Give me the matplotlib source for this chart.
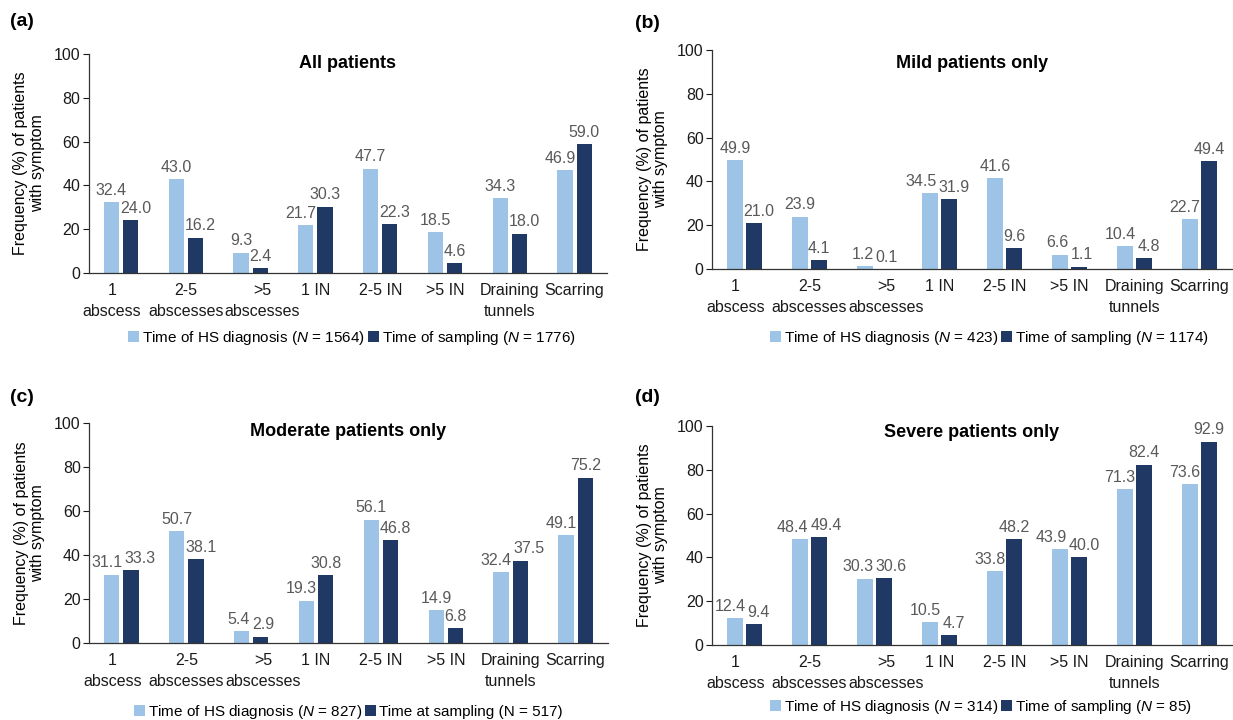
import matplotlib
matplotlib.use("Agg")
import matplotlib.pyplot as plt
import matplotlib.transforms as mtransforms
import numpy as np

plt.rcParams['font.family'] = ['Liberation Sans', 'DejaVu Sans']
plt.rcParams['mathtext.fontset'] = 'custom'
plt.rcParams['mathtext.it'] = 'Liberation Sans:italic'
plt.rcParams['mathtext.rm'] = 'Liberation Sans'

categories = ['1\nabscess', '2-5\nabscesses', '>5\nabscesses', '1 IN', '2-5 IN',
              '>5 IN', 'Draining\ntunnels', 'Scarring']

a_diagnosis = [32.4, 43.0, 9.3, 21.7, 47.7, 18.5, 34.3, 46.9]
a_sampling = [24.0, 16.2, 2.4, 30.3, 22.3, 4.6, 18.0, 59.0]
b_diagnosis = [49.9, 23.9, 1.2, 34.5, 41.6, 6.6, 10.4, 22.7]
b_sampling = [21.0, 4.1, 0.1, 31.9, 9.6, 1.1, 4.8, 49.4]
c_diagnosis = [31.1, 50.7, 5.4, 19.3, 56.1, 14.9, 32.4, 49.1]
c_sampling = [33.3, 38.1, 2.9, 30.8, 46.8, 6.8, 37.5, 75.2]
d_diagnosis = [12.4, 48.4, 30.3, 10.5, 33.8, 43.9, 71.3, 73.6]
d_sampling = [9.4, 49.4, 30.6, 4.7, 48.2, 40.0, 82.4, 92.9]

titles = ['All patients', 'Mild patients only', 'Moderate patients only', 'Severe patients only']
letters = ['(a)', '(b)', '(c)', '(d)']
diag_labels = ['Time of HS diagnosis ($N$ = 1564)', 'Time of HS diagnosis ($N$ = 423)',
               'Time of HS diagnosis ($N$ = 827)', 'Time of HS diagnosis ($N$ = 314)']
samp_labels = ['Time of sampling ($N$ = 1776)', 'Time of sampling ($N$ = 1174)',
               'Time at sampling (N = 517)', 'Time of sampling ($N$ = 85)']

LIGHT = '#9DC3E6'
DARK = '#1F3864'
LABEL_GREY = '#595959'

W, H = 1233, 720
fig = plt.figure(figsize=(W / 100, H / 100), dpi=100)

# axes boxes in pixels: left, top, right, bottom
boxes = [(88.6, 54, 607, 273), (712, 50, 1232, 269),
         (89, 423, 608, 643), (712, 426, 1232, 645)]
legend_pos = [(0.508, -0.297), (0.533, -0.315), (0.5, -0.312), (0.517, -0.282)]
title_drop = [3, 7, 3, 0]   # px below axes top
letter_pos = [(22, 22), (647, 23), (22, 397), (647, 397)]

panels = [(a_diagnosis, a_sampling), (b_diagnosis, b_sampling),
          (c_diagnosis, c_sampling), (d_diagnosis, d_sampling)]

x = np.arange(len(categories))
bw = 0.235
off = 0.148

pairs = []
for i, (diag, samp) in enumerate(panels):
    l, t, r, b = boxes[i]
    ax = fig.add_axes([l / W, 1 - b / H, (r - l) / W, (b - t) / H])
    b1 = ax.bar(x - off, diag, bw, color=LIGHT, label=diag_labels[i])
    b2 = ax.bar(x + off, samp, bw, color=DARK, label=samp_labels[i])
    lab1 = ax.bar_label(b1, fmt='%.1f', padding=3, fontsize=11.5, color=LABEL_GREY)
    lab2 = ax.bar_label(b2, fmt='%.1f', padding=3, fontsize=11.5, color=LABEL_GREY)
    pairs += list(zip(lab1, lab2, b1.patches, b2.patches))

    ax.set_xlim(-0.5, len(categories) - 0.5)
    ax.set_ylim(0, 100)
    ax.set_yticks(range(0, 101, 20))
    ax.set_xticks(x)
    ax.set_xticklabels(categories, fontsize=11.5, linespacing=1.55, color='#1a1a1a')
    ax.tick_params(axis='x', length=0, pad=7)
    ax.tick_params(axis='y', labelsize=11.5, length=4, width=0.8, pad=2, colors='#1a1a1a')
    for s in ('top', 'right'):
        ax.spines[s].set_visible(False)
    for s in ('left', 'bottom'):
        ax.spines[s].set_linewidth(0.9)
        ax.spines[s].set_color('#333333')

    # excel nudges the long wrapped labels sideways
    tl = ax.get_xticklabels()
    tl[0].set_transform(tl[0].get_transform() + mtransforms.ScaledTranslation(-9 / 100, 0, fig.dpi_scale_trans))
    tl[2].set_transform(tl[2].get_transform() + mtransforms.ScaledTranslation(12 / 100, 0, fig.dpi_scale_trans))

    ty = 1 - title_drop[i] / (b - t) - 6 / (b - t)
    ax.text(0.5, ty, titles[i], transform=ax.transAxes, ha='center', va='center',
            fontsize=13, fontweight='bold')
    ax.text(-0.115, 0.5, 'Frequency (%) of patients\nwith symptom', transform=ax.transAxes,
            rotation=90, ha='center', va='center', multialignment='center', fontsize=11.5,
            linespacing=1.1)
    ax.legend(loc='center', bbox_to_anchor=legend_pos[i], ncol=2, frameon=False,
              fontsize=11, handlelength=0.7, handleheight=0.7, handletextpad=0.2,
              columnspacing=0.2, borderpad=0)

    lx, ly = letter_pos[i]
    fig.text(lx / W, 1 - ly / H, letters[i], ha='center', va='center', fontsize=14,
             fontweight='bold')

px2pt = 72 / fig.dpi

# value labels step aside from the neighbouring bar and from each other, like excel
fig.canvas.draw()
renderer = fig.canvas.get_renderer()
for a1, a2, r1, r2 in pairs:
    e1 = a1.get_window_extent(renderer)
    e2 = a2.get_window_extent(renderer)
    rb1 = r1.get_window_extent(renderer)
    rb2 = r2.get_window_extent(renderer)
    if e1.overlaps(rb2):
        a1.xyann = (a1.xyann[0] - (e1.x1 - rb2.x0 + 1) * px2pt, a1.xyann[1])
    if e2.overlaps(rb1):
        a2.xyann = (a2.xyann[0] + (rb1.x1 - e2.x0 + 1) * px2pt, a2.xyann[1])

fig.canvas.draw()
for a1, a2, r1, r2 in pairs:
    e1 = a1.get_window_extent(renderer)
    e2 = a2.get_window_extent(renderer)
    if e1.overlaps(e2):
        need = (e1.x1 - e2.x0 + 2) * px2pt
        if a1.xyann[0] != 0:
            a2.xyann = (a2.xyann[0] + need, a2.xyann[1])
        elif a2.xyann[0] != 0:
            a1.xyann = (a1.xyann[0] - need, a1.xyann[1])
        else:
            a1.xyann = (a1.xyann[0] - need / 2, a1.xyann[1])
            a2.xyann = (a2.xyann[0] + need / 2, a2.xyann[1])

fig.savefig('out.png', dpi=100)
